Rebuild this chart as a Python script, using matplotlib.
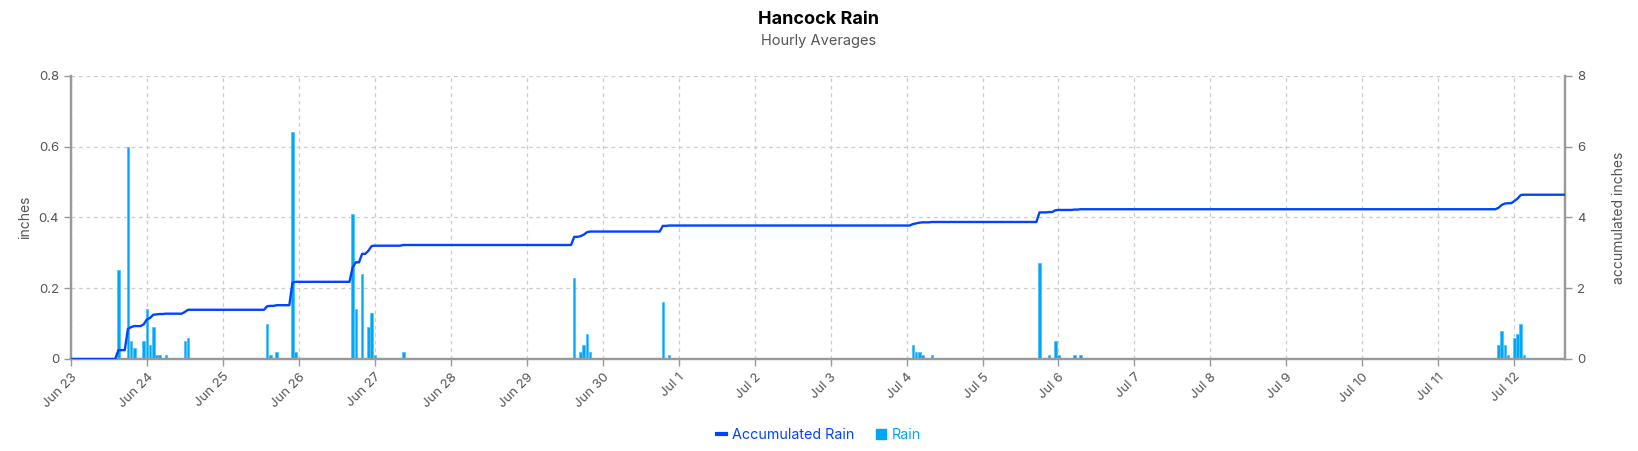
import numpy as np
import pandas as pd
import matplotlib
matplotlib.use("Agg")
import matplotlib.pyplot as plt
import matplotlib.dates as mdates
from matplotlib.lines import Line2D

plt.rcParams['font.family'] = ['Inter', 'DejaVu Sans']

# hourly rain readings (inches), everything else is 0
rain_times = [
    "06-23 15", "06-23 18", "06-23 19", "06-23 20", "06-23 23",
    "06-24 00", "06-24 01", "06-24 02", "06-24 03", "06-24 04", "06-24 06",
    "06-24 12", "06-24 13",
    "06-25 14", "06-25 15", "06-25 17", "06-25 22", "06-25 23",
    "06-26 17", "06-26 18", "06-26 20", "06-26 22", "06-26 23",
    "06-27 00", "06-27 09",
    "06-29 15", "06-29 17", "06-29 18", "06-29 19", "06-29 20",
    "06-30 19", "06-30 21",
    "07-04 02", "07-04 03", "07-04 04", "07-04 05", "07-04 08",
    "07-05 18", "07-05 21", "07-05 23",
    "07-06 00", "07-06 05", "07-06 07",
    "07-11 19", "07-11 20", "07-11 21", "07-11 22",
    "07-12 00", "07-12 01", "07-12 02", "07-12 03",
]
rain_values = [
    0.25, 0.60, 0.05, 0.03, 0.05,
    0.14, 0.04, 0.09, 0.01, 0.01, 0.01,
    0.05, 0.06,
    0.10, 0.01, 0.02, 0.64, 0.02,
    0.41, 0.14, 0.24, 0.09, 0.13,
    0.01, 0.02,
    0.23, 0.02, 0.04, 0.07, 0.02,
    0.16, 0.01,
    0.04, 0.02, 0.02, 0.01, 0.01,
    0.27, 0.01, 0.05,
    0.01, 0.01, 0.01,
    0.04, 0.08, 0.04, 0.01,
    0.06, 0.07, 0.10, 0.01,
]
start = "2023-06-23 00:00"
end = "2023-07-12 16:00"

# build hourly series and running total
idx = pd.date_range(start, end, freq="h")
rain = pd.Series(rain_values,
                 index=pd.to_datetime(["2023-" + t + ":00" for t in rain_times], format="%Y-%m-%d %H:%M"))
hourly = rain.reindex(idx, fill_value=0.0)
accum = hourly.cumsum()

bar_col = '#00a6f7'
line_col = '#0044ff'
grey = '#555555'

fig = plt.figure(figsize=(16.38, 4.51), dpi=100)
ax = fig.add_axes([0.0433, 0.204, 0.9121, 0.628])
ax2 = ax.twinx()

ax.bar(rain.index, rain.values, width=0.034, color=bar_col, edgecolor='#4cc3ff',
       linewidth=0.6, zorder=2)
ax2.plot(accum.index, accum.values, color=line_col, lw=1.7, zorder=3)

ax.set_xlim(pd.Timestamp(start), pd.Timestamp(end))
ax.set_ylim(0, 0.8)
ax2.set_ylim(0, 8)
ax.set_yticks([0, 0.2, 0.4, 0.6, 0.8])
ax.set_yticklabels(['0', '0.2', '0.4', '0.6', '0.8'])
ax2.set_yticks([0, 2, 4, 6, 8])

ax.xaxis.set_major_locator(mdates.DayLocator())
ax.xaxis.set_major_formatter(mdates.DateFormatter('%b %-d'))
for lbl in ax.get_xticklabels():
    lbl.set_rotation(45)
    lbl.set_ha('right')
    lbl.set_rotation_mode('anchor')

ax.grid(True, color='#cccccc', linestyle=(0, (3, 3)), linewidth=0.9)
ax.set_axisbelow(True)

for a in (ax, ax2):
    a.spines['top'].set_visible(False)
    for s in ('left', 'right', 'bottom'):
        a.spines[s].set_color('#999999')
        a.spines[s].set_linewidth(1.6)
    a.tick_params(colors='#999999', labelcolor=grey, labelsize=9.5, length=5, width=1)

ax.set_ylabel('inches', color=grey, fontsize=10, labelpad=5)
ax2.set_ylabel('accumulated inches', color=grey, fontsize=10, labelpad=19)

fig.text(0.5, 0.975, 'Hancock Rain', ha='center', va='top', fontsize=13,
         fontweight='bold', color='black')
fig.text(0.5, 0.925, 'Hourly Averages', ha='center', va='top', fontsize=10.5, color=grey)

handles = [Line2D([], [], color=line_col, lw=3),
           Line2D([], [], color=bar_col, marker='s', markersize=6.5, linestyle='none')]
leg = fig.legend(handles, ['Accumulated Rain', 'Rain'], loc='center',
                 bbox_to_anchor=(0.5, 0.035), ncol=2, frameon=False, fontsize=10.3,
                 handlelength=0.6, handletextpad=0.4, columnspacing=1.6)
for t, c in zip(leg.get_texts(), [line_col, bar_col]):
    t.set_color(c)

fig.savefig('out.png', dpi=100)
